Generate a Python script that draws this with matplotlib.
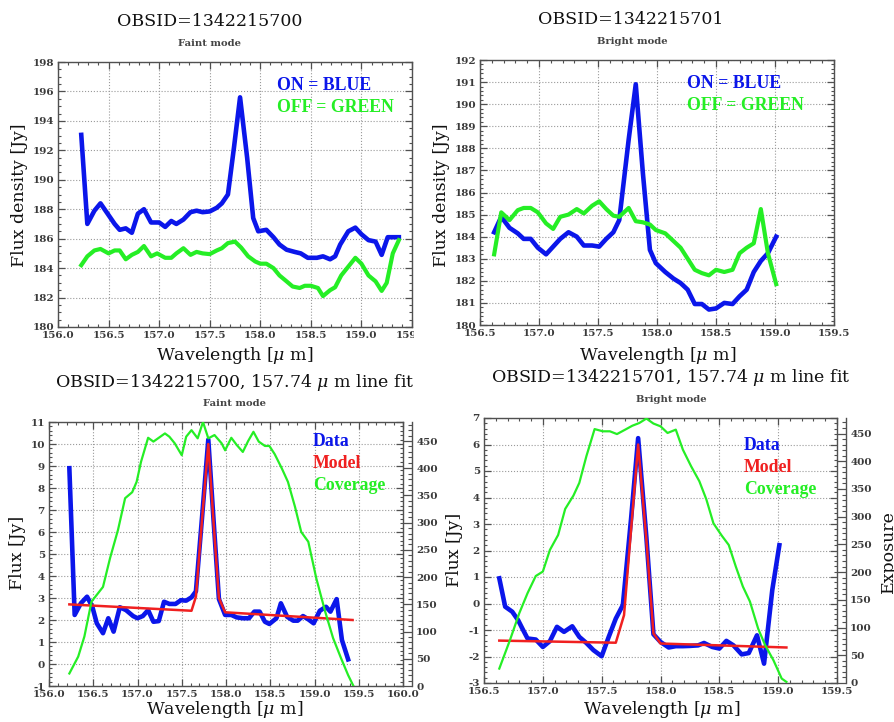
import matplotlib
matplotlib.use('Agg')
import matplotlib.pyplot as plt
from matplotlib.ticker import MultipleLocator, FormatStrFormatter
from matplotlib.patches import Rectangle

plt.rcParams['font.family'] = ['DejaVu Serif']
plt.rcParams['mathtext.fontset'] = 'dejavuserif'

# ---------------- data ----------------
# Top-left: OBSID=1342215700 (Faint mode)
tl_on_x = [156.23, 156.29, 156.36, 156.42, 156.50, 156.56, 156.61, 156.67, 156.73, 156.79,
           156.85, 156.92, 157.00, 157.06, 157.12, 157.17, 157.24, 157.31, 157.37, 157.43,
           157.50, 157.57, 157.62, 157.68, 157.74, 157.80, 157.87, 157.93, 157.98, 158.06,
           158.13, 158.19, 158.26, 158.34, 158.40, 158.47, 158.56, 158.62, 158.69, 158.74,
           158.79, 158.87, 158.94, 159.00, 159.07, 159.14, 159.20, 159.26, 159.37]
tl_on_y = [193.05, 187.0, 187.9, 188.4, 187.6, 187.0, 186.6, 186.7, 186.4, 187.7,
           188.0, 187.1, 187.1, 186.8, 187.2, 187.0, 187.3, 187.8, 187.9, 187.8,
           187.85, 188.1, 188.4, 189.0, 192.2, 195.6, 191.5, 187.4, 186.5, 186.6,
           186.1, 185.6, 185.25, 185.1, 185.0, 184.7, 184.7, 184.8, 184.6, 184.8,
           185.6, 186.5, 186.75, 186.3, 185.9, 185.8, 184.9, 186.1, 186.1]
tl_off_x = [156.23, 156.29, 156.36, 156.42, 156.50, 156.56, 156.61, 156.67, 156.73, 156.79,
            156.85, 156.92, 156.98, 157.06, 157.12, 157.17, 157.24, 157.31, 157.37, 157.43,
            157.50, 157.57, 157.62, 157.68, 157.75, 157.81, 157.88, 157.95, 158.00, 158.06,
            158.13, 158.19, 158.26, 158.32, 158.39, 158.44, 158.50, 158.57, 158.62, 158.69,
            158.74, 158.80, 158.87, 158.94, 159.00, 159.07, 159.14, 159.20, 159.25, 159.31,
            159.37]
tl_off_y = [184.2, 184.8, 185.2, 185.3, 185.0, 185.2, 185.2, 184.6, 184.9, 185.1,
            185.5, 184.8, 185.0, 184.7, 184.7, 185.0, 185.35, 184.9, 185.1, 185.0,
            184.95, 185.2, 185.35, 185.7, 185.8, 185.4, 184.8, 184.45, 184.3, 184.3,
            184.0, 183.5, 183.1, 182.75, 182.65, 182.8, 182.8, 182.65, 182.1, 182.5,
            182.7, 183.5, 184.1, 184.7, 184.3, 183.5, 183.1, 182.45, 183.0, 185.0,
            185.9]

# Top-right: OBSID=1342215701 (Bright mode)
tr_x = [156.62, 156.68, 156.75, 156.82, 156.87, 156.93, 156.99, 157.06, 157.12, 157.18,
        157.25, 157.32, 157.38, 157.45, 157.51, 157.57, 157.63, 157.68, 157.76, 157.82,
        157.88, 157.94, 157.99, 158.07, 158.14, 158.20, 158.26, 158.32, 158.38, 158.44,
        158.50, 158.57, 158.64, 158.70, 158.76, 158.82, 158.88, 158.94, 159.01]
tr_on_y = [184.2, 184.9, 184.4, 184.15, 183.9, 183.9, 183.5, 183.2, 183.55, 183.9,
           184.2, 184.0, 183.6, 183.6, 183.55, 183.9, 184.2, 184.75, 188.4, 190.9,
           186.9, 183.4, 182.8, 182.4, 182.1, 181.9, 181.6, 180.95, 180.95, 180.7,
           180.75, 181.0, 180.95, 181.3, 181.6, 182.4, 182.9, 183.25, 184.0]
tr_off_y = [183.2, 185.1, 184.75, 185.2, 185.3, 185.3, 185.1, 184.6, 184.35, 184.9,
            185.0, 185.25, 185.05, 185.4, 185.6, 185.25, 184.95, 184.9, 185.3, 184.7,
            184.65, 184.55, 184.3, 184.15, 183.8, 183.5, 183.0, 182.5, 182.35, 182.25,
            182.5, 182.4, 182.5, 183.25, 183.5, 183.7, 185.25, 183.25, 181.85]

# Bottom-left: line fit, faint mode
bl_x = [156.23, 156.29, 156.36, 156.43, 156.49, 156.54, 156.61, 156.67, 156.73, 156.80,
        156.87, 156.95, 157.00, 157.06, 157.12, 157.18, 157.24, 157.30, 157.36, 157.43,
        157.49, 157.55, 157.61, 157.66, 157.73, 157.80, 157.86, 157.92, 157.99, 158.06,
        158.12, 158.19, 158.26, 158.32, 158.38, 158.44, 158.49, 158.57, 158.62, 158.69,
        158.76, 158.81, 158.87, 158.93, 158.99, 159.06, 159.13, 159.18, 159.25, 159.31,
        159.38]
bl_data = [8.9, 2.23, 2.76, 3.06, 2.6, 1.85, 1.4, 2.08, 1.47, 2.58,
           2.45, 2.18, 2.08, 2.18, 2.45, 1.92, 1.95, 2.83, 2.73, 2.73,
           2.9, 2.88, 3.03, 3.3, 6.7, 10.2, 6.5, 2.95, 2.23, 2.23,
           2.12, 2.08, 2.08, 2.38, 2.38, 1.92, 1.82, 2.08, 2.76, 2.15,
           1.97, 1.97, 2.18, 2.03, 1.85, 2.42, 2.6, 2.38, 2.95, 1.09,
           0.21]
bl_model_x = [156.23, 157.61, 157.66, 157.73, 157.80, 157.86, 157.92, 157.99, 159.43]
bl_model_y = [2.71, 2.42, 3.06, 6.6, 10.0, 6.4, 3.0, 2.35, 2.0]
bl_cov_x = [156.23, 156.33, 156.40, 156.48, 156.61, 156.69, 156.78, 156.86, 156.94, 156.99,
            157.04, 157.12, 157.18, 157.31, 157.36, 157.42, 157.50, 157.55, 157.61, 157.68,
            157.74, 157.80, 157.87, 157.95, 157.99, 158.06, 158.12, 158.19, 158.25, 158.31,
            158.37, 158.44, 158.49, 158.55, 158.63, 158.70, 158.78, 158.85, 158.93, 159.02,
            159.12, 159.21, 159.30, 159.38, 159.44]
bl_cov_y = [23, 54, 91, 155, 182, 235, 287, 345, 356, 375,
            412, 456, 449, 464, 458, 446, 424, 458, 470, 455,
            485, 455, 461, 446, 433, 456, 443, 430, 450, 467,
            449, 441, 441, 426, 400, 375, 329, 283, 265, 198,
            137, 88, 51, 20, 0]

# Bottom-right: line fit, bright mode
br_x = [156.63, 156.68, 156.74, 156.79, 156.83, 156.87, 156.94, 157.00, 157.06, 157.12,
        157.18, 157.25, 157.31, 157.37, 157.43, 157.50, 157.56, 157.62, 157.68, 157.75,
        157.81, 157.88, 157.94, 158.00, 158.07, 158.13, 158.19, 158.25, 158.32, 158.37,
        158.44, 158.50, 158.56, 158.62, 158.69, 158.75, 158.82, 158.88, 158.95, 159.01]
br_data = [0.95, -0.12, -0.31, -0.63, -0.98, -1.32, -1.36, -1.64, -1.42, -0.88,
           -1.07, -0.86, -1.26, -1.49, -1.76, -1.99, -1.26, -0.57, -0.06, 3.2,
           6.24, 2.5, -1.16, -1.45, -1.66, -1.61, -1.61, -1.6, -1.58, -1.49,
           -1.64, -1.70, -1.41, -1.58, -1.92, -1.87, -1.2, -2.27, 0.51, 2.2]
br_model_x = [156.63, 157.62, 157.69, 157.75, 157.81, 157.88, 157.94, 158.00, 159.07]
br_model_y = [-1.40, -1.48, -0.44, 2.8, 6.0, 2.4, -1.13, -1.51, -1.66]
br_cov_x = [156.63, 156.72, 156.80, 156.87, 156.94, 157.00, 157.06, 157.13, 157.19, 157.26,
            157.31, 157.37, 157.44, 157.51, 157.57, 157.63, 157.70, 157.76, 157.82, 157.88,
            157.94, 158.00, 158.06, 158.13, 158.19, 158.26, 158.33, 158.39, 158.45, 158.52,
            158.58, 158.64, 158.70, 158.76, 158.83, 158.89, 158.96, 159.03, 159.07]
br_cov_y = [26, 77, 126, 162, 193, 201, 240, 267, 314, 338,
            361, 409, 458, 454, 454, 449, 457, 464, 469, 477,
            468, 463, 451, 457, 421, 391, 364, 331, 288, 266,
            249, 210, 174, 147, 98, 68, 41, 8, 2]

# ---------------- styling ----------------
W, H = 895, 722
BLUE = '#0b16ea'
GREEN = '#25ee25'
RED = '#f02020'
TICKC = '#3a3a3a'
SPINE = '#505050'
SUBC = '#454545'

fig = plt.figure(figsize=(W / 100, H / 100), dpi=100)


def rect(l, t, r, b):
    return [l / W, 1 - b / H, (r - l) / W, (b - t) / H]


def ftext(x, y, s, **kw):
    return fig.text(x / W, 1 - y / H, s, **kw)


def bold_ticks(ax):
    for lab in (ax.get_xticklabels() + ax.get_yticklabels()):
        lab.set_fontweight('bold')


def style(ax, xlim, ylim, xmaj, xmin, ymaj, ymin):
    ax.set_xlim(*xlim)
    ax.set_ylim(*ylim)
    ax.xaxis.set_major_locator(MultipleLocator(xmaj))
    ax.xaxis.set_minor_locator(MultipleLocator(xmin))
    ax.yaxis.set_major_locator(MultipleLocator(ymaj))
    ax.yaxis.set_minor_locator(MultipleLocator(ymin))
    ax.xaxis.set_major_formatter(FormatStrFormatter('%.1f'))
    ax.yaxis.set_major_formatter(FormatStrFormatter('%d'))
    ax.tick_params(which='both', direction='in', top=True, right=True,
                   color=SPINE, labelcolor=TICKC, labelsize=7.5, pad=3)
    ax.tick_params(which='major', length=5, width=0.9)
    ax.tick_params(which='minor', length=2.5, width=0.8)
    for s in ax.spines.values():
        s.set_color(SPINE)
        s.set_linewidth(1.0)
    ax.grid(True, which='major', linestyle=':', color='#9a9a9a', linewidth=0.8)
    ax.set_axisbelow(True)
    bold_ticks(ax)


def twin_style(tw, ylim):
    tw.set_ylim(*ylim)
    tw.yaxis.set_major_locator(MultipleLocator(50))
    tw.yaxis.set_minor_locator(MultipleLocator(10))
    tw.yaxis.set_major_formatter(FormatStrFormatter('%d'))
    for k in ('left', 'top', 'bottom'):
        tw.spines[k].set_visible(False)
    tw.spines['right'].set_position(('outward', 6.5))
    tw.spines['right'].set_color(SPINE)
    tw.spines['right'].set_linewidth(1.0)
    tw.tick_params(axis='y', which='both', direction='in', color=SPINE,
                   labelcolor=TICKC, labelsize=7.5, pad=3)
    tw.tick_params(axis='y', which='major', length=6.5, width=0.9)
    tw.tick_params(axis='y', which='minor', length=3, width=0.8)
    for lab in tw.get_yticklabels():
        lab.set_fontweight('bold')


TITLE = dict(fontsize=12.5, fontweight='normal', ha='center', va='center', color='#111111')
SUB = dict(fontsize=7.2, fontweight='bold', ha='center', va='center', color=SUBC)
LAB = dict(fontsize=12.5, fontweight='normal', ha='center', va='center', color='#111111')
LEG = dict(fontsize=12.8, fontweight='bold', family='Liberation Serif', ha='left', va='center')
WL = 'Wavelength [$\\mu$ m]'

# ---------- top-left ----------
ax1 = fig.add_axes(rect(58, 62, 412, 327))
ax1.plot(tl_on_x, tl_on_y, color=BLUE, lw=3.3, solid_joinstyle='round')
ax1.plot(tl_off_x, tl_off_y, color=GREEN, lw=3.0, solid_joinstyle='round')
style(ax1, (156.0, 159.5), (180, 198), 0.5, 0.1, 2, 0.5)
ax1.set_zorder(0)

# white mask: the right-hand panels sit on top of the left ones
fig.add_artist(Rectangle((414 / W, 1 - 366 / H), (W - 414) / W, 366 / H,
                         transform=fig.transFigure, facecolor='white',
                         edgecolor='none', zorder=0.5))

ftext(210, 22, 'OBSID=1342215700', **TITLE)
ftext(210, 44, 'Faint mode', **SUB)
ftext(235, 356, WL, **LAB)
ftext(20, 195, 'Flux density [Jy]', rotation=90, **LAB)
ftext(277, 86, 'ON = BLUE', color=BLUE, **LEG)
ftext(277, 107, 'OFF = GREEN', color=GREEN, **LEG)

# ---------- top-right ----------
ax2 = fig.add_axes(rect(480, 60, 834, 325))
ax2.plot(tr_x, tr_on_y, color=BLUE, lw=3.3, solid_joinstyle='round')
ax2.plot(tr_x, tr_off_y, color=GREEN, lw=3.0, solid_joinstyle='round')
style(ax2, (156.5, 159.5), (180, 192), 0.5, 0.1, 1, 0.2)
ax2.set_zorder(1)

ftext(631, 20, 'OBSID=1342215701', **TITLE)
ftext(632, 42, 'Bright mode', **SUB)
ftext(658, 355, WL, **LAB)
ftext(442, 195, 'Flux density [Jy]', rotation=90, **LAB)
ftext(687, 84, 'ON = BLUE', color=BLUE, **LEG)
ftext(687, 106, 'OFF = GREEN', color=GREEN, **LEG)

# ---------- bottom-left ----------
ax3 = fig.add_axes(rect(49, 422, 403, 686))
ax3.plot(bl_x, bl_data, color=BLUE, lw=3.3, solid_joinstyle='round')
ax3.plot(bl_model_x, bl_model_y, color=RED, lw=1.8)
style(ax3, (156.0, 160.0), (-1, 11), 0.5, 0.1, 1, 0.2)
tw3 = ax3.twinx()
tw3.plot(bl_cov_x, bl_cov_y, color=GREEN, lw=1.6)
twin_style(tw3, (0, 485))
ax3.tick_params(which='both', right=True)

ftext(235, 382, 'OBSID=1342215700, 157.74 $\\mu$ m line fit', **TITLE)
ftext(235, 404, 'Faint mode', **SUB)
ftext(225, 710, WL, **LAB)
ftext(17, 553, 'Flux [Jy]', rotation=90, **LAB)
ftext(313, 442, 'Data', color=BLUE, **LEG)
ftext(313, 463, 'Model', color=RED, **LEG)
ftext(313, 485, 'Coverage', color=GREEN, **LEG)

# ---------- bottom-right ----------
ax4 = fig.add_axes(rect(484, 418, 837, 683))
ax4.plot(br_x, br_data, color=BLUE, lw=3.3, solid_joinstyle='round')
ax4.plot(br_model_x, br_model_y, color=RED, lw=1.8)
style(ax4, (156.5, 159.5), (-3, 7), 0.5, 0.1, 1, 0.2)
tw4 = ax4.twinx()
tw4.plot(br_cov_x, br_cov_y, color=GREEN, lw=1.6)
twin_style(tw4, (0, 478))
ax4.tick_params(which='both', right=True)

ftext(671, 377, 'OBSID=1342215701, 157.74 $\\mu$ m line fit', **TITLE)
ftext(671, 400, 'Bright mode', **SUB)
ftext(662, 709, WL, **LAB)
ftext(455, 550, 'Flux [Jy]', rotation=90, **LAB)
ftext(888, 552, 'Exposure', rotation=90, **LAB)
ftext(744, 446, 'Data', color=BLUE, **LEG)
ftext(744, 467, 'Model', color=RED, **LEG)
ftext(744, 489, 'Coverage', color=GREEN, **LEG)

fig.savefig('out.png', dpi=100, facecolor='white')
